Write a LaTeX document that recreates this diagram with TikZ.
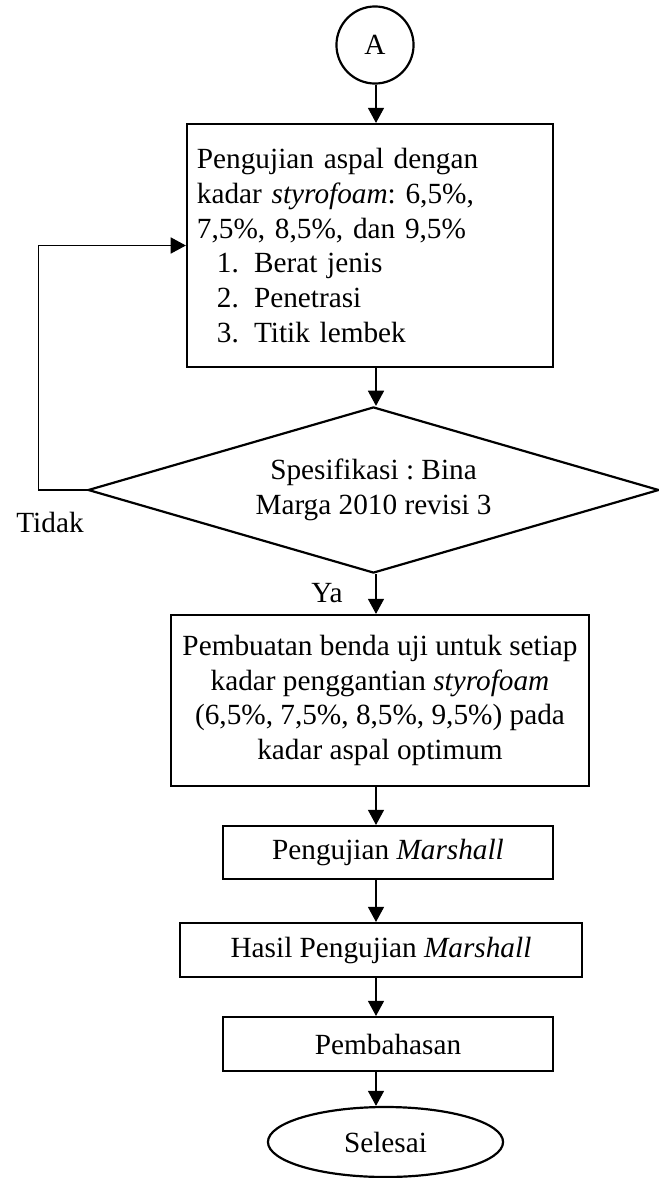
\documentclass[tikz,border=0pt]{standalone}
\usepackage{fontspec}
\setmainfont{Liberation Serif}
\usetikzlibrary{arrows.meta, shapes.geometric}

\begin{document}
\begin{tikzpicture}[x=0.41pt, y=-0.41pt,
  font=\fontsize{12pt}{14.3pt}\selectfont\frenchspacing,
  box/.style={draw, line width=0.9pt, align=center, inner sep=0pt},
  term/.style={draw, line width=0.9pt, ellipse, inner sep=0pt},
  decide/.style={draw, line width=0.9pt, diamond, align=center, inner sep=0pt, shape aspect=3.4},
  arr/.style={-{Triangle[length=6.2pt, width=6.6pt]}, line width=0.45pt}]
\useasboundingbox (0,0) rectangle (659,1178);

\coordinate (axis) at (376,0);

\node (A) [term, circle, minimum size=31.6pt] at (375,45) {A};
\node (Uji) [box, align=left, text width=141.9pt, inner xsep=4.1pt, minimum height=99.6pt] at (370,245.5)
  {Pengujian aspal dengan\\
   kadar \textit{styrofoam}: 6,5\%,\\
   7,5\%, 8,5\%, dan 9,5\%\\
   \hspace*{8.2pt}\makebox[15.2pt][l]{1.}Berat jenis\\
   \hspace*{8.2pt}\makebox[15.2pt][l]{2.}Penetrasi\\
   \hspace*{8.2pt}\makebox[15.2pt][l]{3.}Titik lembek};
\node (Spek) [decide, minimum width=234.1pt, minimum height=68.1pt] at (373.5,490)
  {Spesifikasi : Bina\\ Marga 2010 revisi 3};
\node (Buat) [box, minimum width=171.4pt, minimum height=70.1pt] at (380,700.5)
  {Pembuatan benda uji untuk setiap\\
   kadar penggantian \textit{styrofoam}\\
   (6,5\%, 7,5\%, 8,5\%, 9,5\%) pada\\
   kadar aspal optimum};
\node (Mar) [box, minimum width=135.3pt, minimum height=21.7pt] at (388,852.5) {Pengujian \textit{Marshall}};
\node (Hasil) [box, minimum width=164.8pt, minimum height=22.1pt] at (381,950) {Hasil Pengujian \textit{Marshall}};
\node (Bahas) [box, minimum width=135.3pt, minimum height=22.1pt] at (388,1044) {Pembahasan};
\node (End) [term, minimum width=96.4pt, minimum height=28.7pt] at (385.5,1142) {Selesai};

\node (No) at (50,522) {Tidak};
\node (Yes) at (327,593) {Ya};

\draw[arr] (A.south -| axis) -- (Uji.north -| axis);
\draw[arr] (Uji.south -| axis) -- (Spek.north -| axis);
\draw[arr] (Spek.south -| axis) -- (Buat.north -| axis);
\draw[arr] (Buat.south -| axis) -- (Mar.north -| axis);
\draw[arr] (Mar.south -| axis) -- (Hasil.north -| axis);
\draw[arr] (Hasil.south -| axis) -- (Bahas.north -| axis);
\draw[arr] (Bahas.south -| axis) -- (End.north -| axis);
% kembali ke pengujian bila tidak memenuhi
\draw[arr] (Spek.west) -- ++(-48,0) |- (Uji.west);
\end{tikzpicture}
\end{document}
